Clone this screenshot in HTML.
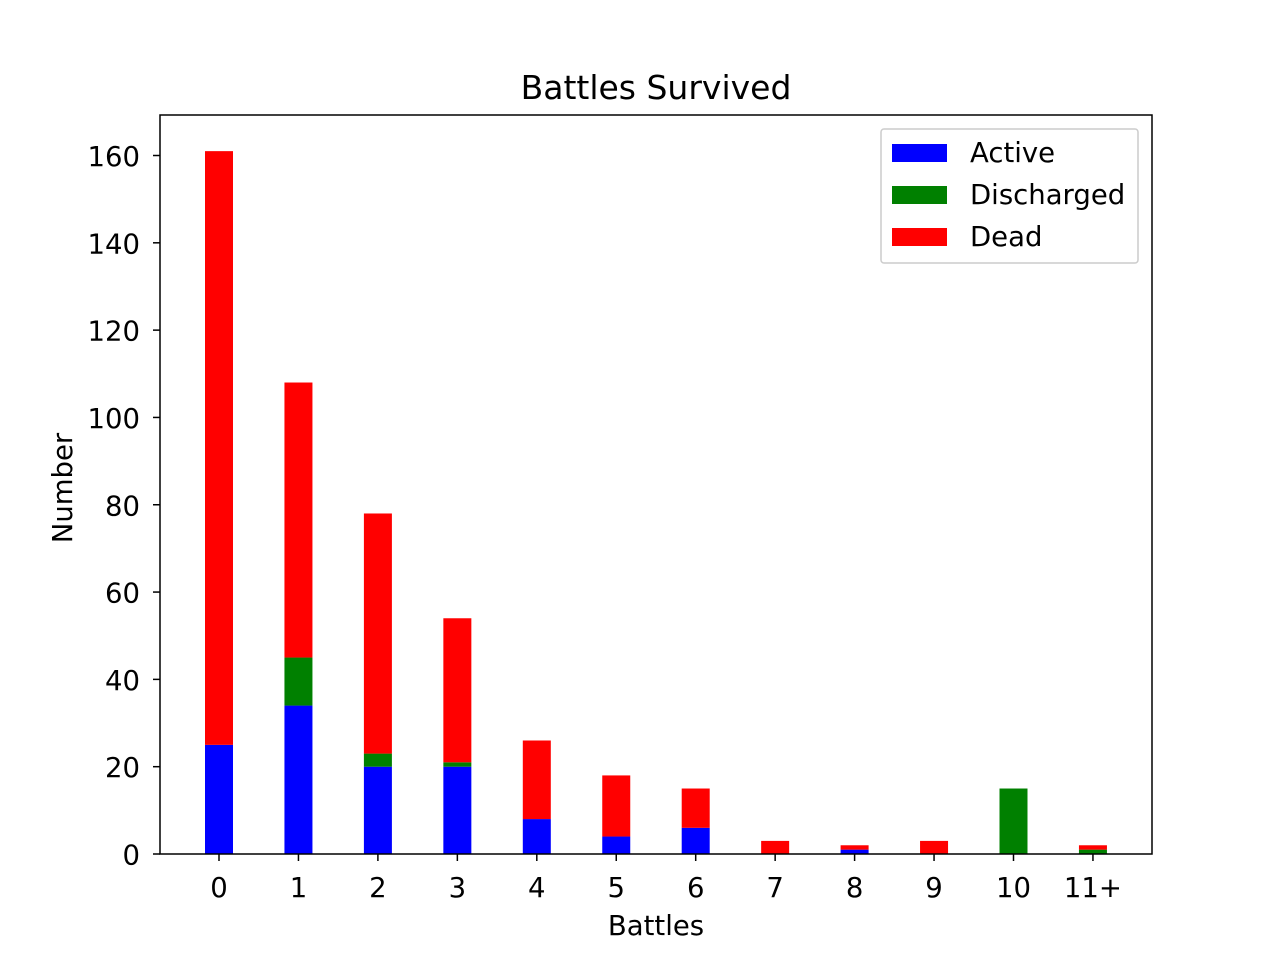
<!DOCTYPE html>
<html><head><meta charset="utf-8"><style>
body{margin:0;background:#fff}
svg{font-family:"DejaVu Sans","Liberation Sans",sans-serif}
</style></head><body>
<svg id="chart" width="1280" height="960">
<rect width="1280" height="960" fill="#fff"/>
<text x="656" y="99" font-size="33" text-anchor="middle">Battles Survived</text>
<g id="bars"></g>
<g id="axes"></g>
<rect x="160" y="115" width="992" height="739" fill="none" stroke="#000" stroke-width="1.5"/>
<text x="656" y="935" font-size="27.5" text-anchor="middle">Battles</text>
<text transform="translate(72,488) rotate(-90)" font-size="27.5" text-anchor="middle">Number</text>
<g>
<rect x="881" y="129" width="257" height="134" rx="3" fill="#fff" stroke="#ccc" stroke-width="1.5"/>
<rect x="892" y="144" width="55" height="18" fill="#0000ff"/>
<text x="970" y="162" font-size="27.5">Active</text>
<rect x="892" y="186" width="55" height="18" fill="#008000"/>
<text x="970" y="204" font-size="27.5">Discharged</text>
<rect x="892" y="228" width="55" height="18" fill="#ff0000"/>
<text x="970" y="246" font-size="27.5">Dead</text>
</g>
</svg>
<script>
const categories = ["0","1","2","3","4","5","6","7","8","9","10","11+"];
const active = [25,34,20,20,8,4,6,0,1,0,0,0];
const discharged = [0,11,3,1,0,0,0,0,0,0,15,1];
const dead = [136,63,55,33,18,14,9,3,1,3,0,1];
const yTicks = [0,20,40,60,80,100,120,140,160];

const NS = "http://www.w3.org/2000/svg";
const x0 = 219, step = 79.45, bw = 28;
const xs = i => x0 + i * step;
const ys = v => 854 - v * 4.3656;
const bars = document.getElementById('bars');
const axes = document.getElementById('axes');
function mk(tag, attrs, parent){const e=document.createElementNS(NS,tag);for(const k in attrs)e.setAttribute(k,attrs[k]);parent.appendChild(e);return e;}
const series = [["active",active,"#0000ff"],["discharged",discharged,"#008000"],["dead",dead,"#ff0000"]];
categories.forEach((c,i)=>{
  let base = 0;
  series.forEach(([name,arr,col])=>{
    const v = arr[i];
    if (v > 0) {
      const r = mk('rect',{x:xs(i)-bw/2,y:ys(base+v),width:bw,height:ys(base)-ys(base+v),fill:col},bars);
      
      
    }
    base += v;
  });
  const t = mk('line',{x1:xs(i),x2:xs(i),y1:854,y2:861,stroke:'#000','stroke-width':1.5},axes);
  
  
  const l = mk('text',{x:xs(i),y:897,'font-size':27.5,'text-anchor':'middle'},axes);
  l.textContent = c;
  
  
});
yTicks.forEach(v=>{
  const t = mk('line',{x1:153,x2:160,y1:ys(v),y2:ys(v),stroke:'#000','stroke-width':1.5},axes);
  
  
  const l = mk('text',{x:140,y:ys(v)+10.5,'font-size':27.5,'text-anchor':'end'},axes);
  l.textContent = v;
  
  
});
</script>
</body></html>
